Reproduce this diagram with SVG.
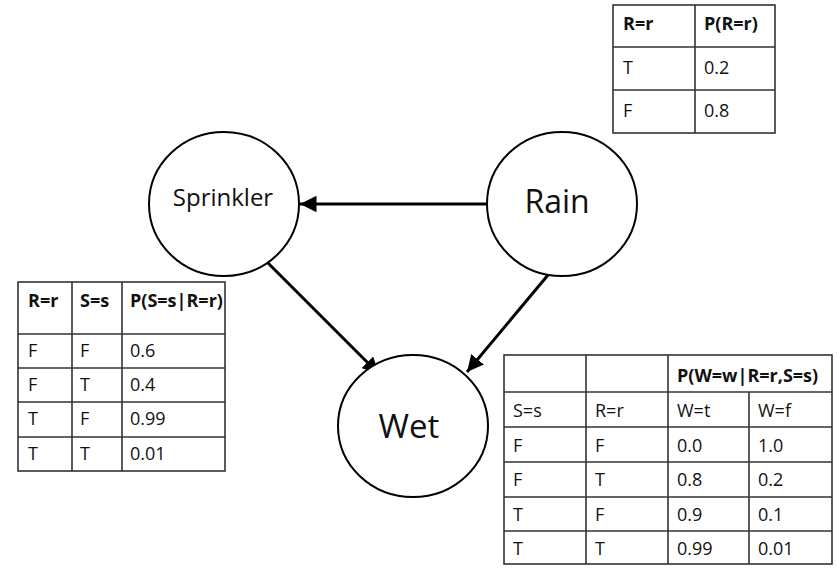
<svg xmlns="http://www.w3.org/2000/svg" width="837" height="576" viewBox="0 0 837 576">
<defs>
<style>
.node{fill:#fff;stroke:#000;stroke-width:2}
.edge{stroke:#000;stroke-width:3;fill:none}
.lbl{font-family:"Open Sans","Liberation Sans",sans-serif;fill:#111;text-anchor:middle}
.tb{fill:#fff;stroke:#333;stroke-width:1.6}
.tl{stroke:#333;stroke-width:1.6}
.t{font-family:"Open Sans","Liberation Sans",sans-serif;font-size:18px;fill:#111}
.h{font-weight:bold}
</style>
<marker id="ah" viewBox="0 0 10 10" refX="10" refY="5" markerWidth="5.5" markerHeight="5.5" orient="auto" markerUnits="strokeWidth">
<path d="M0,0 L10,5 L0,10 z" fill="#000"/>
</marker>
</defs>
<rect width="837" height="576" fill="#fff"/>
<g id="connectors">
<line class="edge" x1="487" y1="204" x2="300" y2="204" marker-end="url(#ah)"/>
<line class="edge" x1="267" y1="262" x2="379" y2="374" marker-end="url(#ah)"/>
<line class="edge" x1="548" y1="275" x2="467" y2="372" marker-end="url(#ah)"/>
</g>
<g id="sprinkler">
<ellipse class="node" cx="224" cy="204" rx="75" ry="72"/>
<text class="lbl" x="223" y="206" font-size="24">Sprinkler</text>
</g>
<g id="rain">
<ellipse class="node" cx="562" cy="204" rx="75" ry="72"/>
<text class="lbl" x="557" y="213" font-size="32">Rain</text>
</g>
<g id="wet">
<ellipse class="node" cx="413" cy="426" rx="75" ry="71"/>
<text class="lbl" x="409" y="438" font-size="33">Wet</text>
</g>
<g id="table-rain">
<rect class="tb" x="613" y="5" width="162" height="128"/>
<line class="tl" x1="695" y1="5" x2="695" y2="133"/>
<line class="tl" x1="613" y1="47" x2="775" y2="47"/>
<line class="tl" x1="613" y1="90" x2="775" y2="90"/>
<text class="t h" x="623" y="30">R=r</text>
<text class="t h" x="704" y="30">P(R=r)</text>
<text class="t" x="623" y="74">T</text>
<text class="t" x="704" y="74">0.2</text>
<text class="t" x="623" y="117">F</text>
<text class="t" x="704" y="117">0.8</text>
</g>
<g id="table-sprinkler">
<rect class="tb" x="18" y="282" width="207" height="189"/>
<line class="tl" x1="72" y1="282" x2="72" y2="471"/>
<line class="tl" x1="122" y1="282" x2="122" y2="471"/>
<line class="tl" x1="18" y1="334" x2="225" y2="334"/>
<line class="tl" x1="18" y1="368" x2="225" y2="368"/>
<line class="tl" x1="18" y1="402" x2="225" y2="402"/>
<line class="tl" x1="18" y1="437" x2="225" y2="437"/>
<text class="t h" x="28" y="307">R=r</text>
<text class="t h" x="80" y="307">S=s</text>
<text class="t h" x="130" y="307">P(S=s|R=r)</text>
<text class="t" x="28" y="357">F</text><text class="t" x="80" y="357">F</text><text class="t" x="130" y="357">0.6</text>
<text class="t" x="28" y="391">F</text><text class="t" x="80" y="391">T</text><text class="t" x="130" y="391">0.4</text>
<text class="t" x="28" y="425">T</text><text class="t" x="80" y="425">F</text><text class="t" x="130" y="425">0.99</text>
<text class="t" x="28" y="460">T</text><text class="t" x="80" y="460">T</text><text class="t" x="130" y="460">0.01</text>
</g>
<g id="table-wet">
<rect class="tb" x="504" y="355" width="328" height="209"/>
<line class="tl" x1="586" y1="355" x2="586" y2="564"/>
<line class="tl" x1="668" y1="355" x2="668" y2="564"/>
<line class="tl" x1="749" y1="392" x2="749" y2="564"/>
<line class="tl" x1="504" y1="392" x2="832" y2="392"/>
<line class="tl" x1="504" y1="427" x2="832" y2="427"/>
<line class="tl" x1="504" y1="462" x2="832" y2="462"/>
<line class="tl" x1="504" y1="497" x2="832" y2="497"/>
<line class="tl" x1="504" y1="531" x2="832" y2="531"/>
<text class="t h" x="677" y="382">P(W=w|R=r,S=s)</text>
<text class="t" x="513" y="417">S=s</text><text class="t" x="595" y="417">R=r</text><text class="t" x="677" y="417">W=t</text><text class="t" x="758" y="417">W=f</text>
<text class="t" x="513" y="452">F</text><text class="t" x="595" y="452">F</text><text class="t" x="677" y="452">0.0</text><text class="t" x="758" y="452">1.0</text>
<text class="t" x="513" y="486">F</text><text class="t" x="595" y="486">T</text><text class="t" x="677" y="486">0.8</text><text class="t" x="758" y="486">0.2</text>
<text class="t" x="513" y="521">T</text><text class="t" x="595" y="521">F</text><text class="t" x="677" y="521">0.9</text><text class="t" x="758" y="521">0.1</text>
<text class="t" x="513" y="555">T</text><text class="t" x="595" y="555">T</text><text class="t" x="677" y="555">0.99</text><text class="t" x="758" y="555">0.01</text>
</g>
</svg>
